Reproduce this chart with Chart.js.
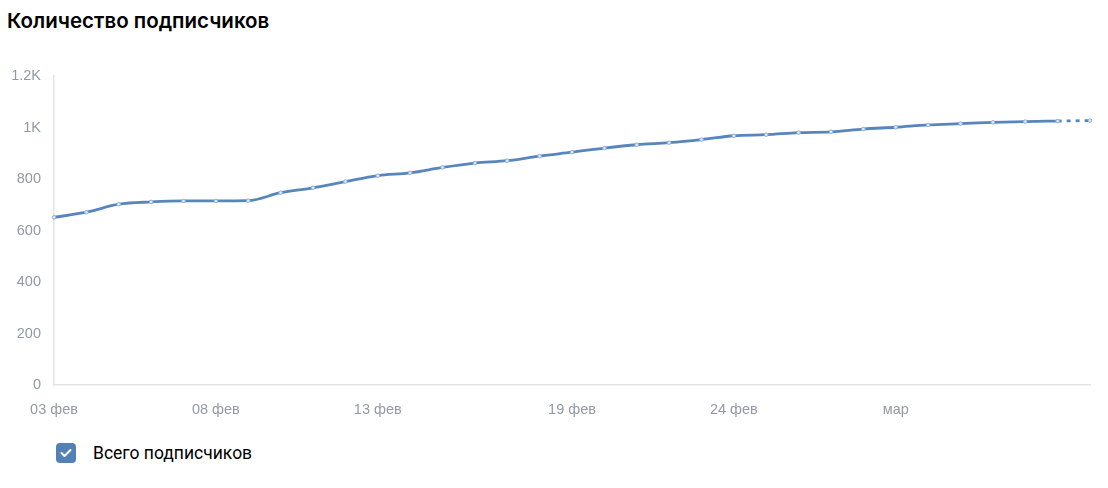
<!DOCTYPE html>
<html lang="ru">
<head>
<meta charset="utf-8">
<title>Количество подписчиков</title>
<script src="https://cdn.jsdelivr.net/npm/chart.js@4/dist/chart.umd.min.js"></script>
<style>
  body { margin: 0; background: #fff; width: 1108px; height: 488px; overflow: hidden; position: relative; }
  #title { position: absolute; left: 7px; top: 8px; font-family: Inter, sans-serif; font-weight: 600; font-size: 20.5px; color: #000; }
  #wrap { position: absolute; left: 0; top: 0; width: 1108px; height: 430px; }
  #legend { position: absolute; left: 56px; top: 443px; display: flex; align-items: center; font-family: Roboto, sans-serif; font-size: 17.5px; color: #000; }
  #legend .box { width: 20px; height: 20px; border-radius: 4px; background: #5181b8; margin-right: 17px; display: flex; align-items: center; justify-content: center; }
</style>
</head>
<body>
<div id="title">Количество подписчиков</div>
<div id="wrap"><canvas id="chart"></canvas></div>
<div id="legend">
  <span class="box"><svg width="12" height="10" viewBox="0 0 12 10"><path d="M1.5 5 L4.5 8 L10.5 2" fill="none" stroke="#fff" stroke-width="2" stroke-linecap="round" stroke-linejoin="round"/></svg></span>
  <span>Всего подписчиков</span>
</div>
<script>
// days: 03 фев .. 07 мар
const days = [
  "03 фев", "04 фев", "05 фев", "06 фев", "07 фев", "08 фев", "09 фев", "10 фев",
  "11 фев", "12 фев", "13 фев", "14 фев", "15 фев", "16 фев", "17 фев", "18 фев",
  "19 фев", "20 фев", "21 фев", "22 фев", "23 фев", "24 фев", "25 фев", "26 фев",
  "27 фев", "28 фев", "01 мар", "02 мар", "03 мар", "04 мар", "05 мар", "06 мар", "07 мар"
];
const subscribers = [
  651, 671, 702, 711, 715, 715, 716, 747, 766, 790, 813, 824, 845, 862, 871, 889,
  904, 920, 933, 941, 953, 968, 972, 980, 983, 994, 1001, 1010, 1015, 1020, 1023, 1025, 1027
];
// which x labels are shown, and how
const tickLabels = { 0: "03 фев", 5: "08 фев", 10: "13 фев", 16: "19 фев", 21: "24 фев", 26: "мар" };
const yTicks = { 0: "0", 200: "200", 400: "400", 600: "600", 800: "800", 1000: "1K", 1200: "1.2K" };

const lineColor = "#5785be";
const lastIndex = subscribers.length - 1;

new Chart(document.getElementById("chart"), {
  type: "line",
  data: {
    labels: days,
    datasets: [{
      label: "Всего подписчиков",
      data: subscribers,
      borderColor: lineColor,
      borderWidth: 2.8,
      cubicInterpolationMode: "monotone",
      pointRadius: 1.8,
      pointBorderWidth: 1,
      pointBorderColor: "#8fb0d8",
      pointBackgroundColor: "#dfe8f3",
      segment: {
        borderDash: ctx => ctx.p1DataIndex === lastIndex ? [4, 5] : undefined
      }
    }]
  },
  options: {
    responsive: true,
    maintainAspectRatio: false,
    animation: false,
    layout: { padding: { top: 76, right: 18, left: 0, bottom: 0 } },
    plugins: { legend: { display: false }, tooltip: { enabled: false } },
    scales: {
      x: {
        offset: false,
        grid: { display: false, drawTicks: false },
        border: { color: "#e3e4e6", width: 1.5 },
        afterFit: axis => { axis.height = 45; },
        ticks: {
          autoSkip: false,
          maxRotation: 0,
          padding: 16,
          color: "#939aa6",
          font: { family: "'Liberation Sans', Arial, sans-serif", size: 14.5 },
          callback: (val, i) => tickLabels[i] || ""
        }
      },
      y: {
        min: 0,
        max: 1200,
        grid: { display: false, drawTicks: false },
        border: { color: "#e3e4e6", width: 1.5 },
        afterFit: axis => { axis.width = 54; },
        ticks: {
          stepSize: 200,
          padding: 13,
          color: "#939aa6",
          font: { family: "'Liberation Sans', Arial, sans-serif", size: 14.5 },
          callback: v => yTicks[v]
        }
      }
    }
  }
});
</script>
</body>
</html>
